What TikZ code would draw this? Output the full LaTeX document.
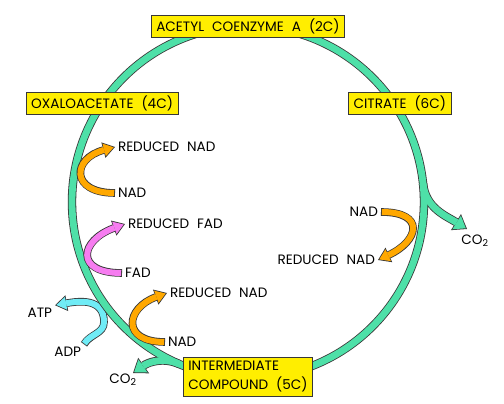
\documentclass[tikz,border=0pt]{standalone}
\usepackage{fontspec}
\setmainfont{Poppins}
\usetikzlibrary{arrows.meta}

\definecolor{cyclegreen}{RGB}{78,224,168}
\definecolor{boxyellow}{RGB}{255,238,0}
\definecolor{nadorange}{RGB}{255,168,0}
\definecolor{fadpink}{RGB}{246,124,240}
\definecolor{atpcyan}{RGB}{112,236,246}
\definecolor{outline}{RGB}{55,55,55}

\newcommand\cyclefont{\fontsize{13.6}{19}\selectfont\spaceskip=8pt\relax}

\tikzset{
  stage/.style={draw=outline, line width=0.6pt, fill=boxyellow, inner xsep=5pt,
    inner ysep=0pt, minimum height=22pt, font=\cyclefont},
  molecule/.style={inner sep=0pt, outer sep=3pt, font=\cyclefont},
  edgetip/.style={-{Triangle[length=12pt,width=16pt,line width=0pt,color=outline,fill=outline]}, shorten >=0pt},
  filltip/.style={-{Triangle[length=9.8pt,width=13pt,line width=0pt,color=#1,fill=#1]}, shorten >=1.44pt},
  band/.style={draw=#1, line width=6pt, filltip=#1, shorten <=0.8pt,
    preaction={draw=outline, line width=7.6pt, edgetip, shorten <=0pt}},
  cycleedge/.style={draw=outline, line width=8.4pt,
    -{Triangle[length=13pt,width=19pt,line width=0pt,color=outline,fill=outline]}},
  cyclefill/.style={draw=cyclegreen, line width=6.8pt, shorten >=1.35pt,
    -{Triangle[length=10.85pt,width=15.9pt,line width=0pt,color=cyclegreen,fill=cyclegreen]}},
}

\begin{document}
\begin{tikzpicture}[x=1pt,y=1pt]
    \fill[white] (0,0) rectangle (504,404);
    \useasboundingbox (0,0) rectangle (504,404);

    % molecules going in and out
    \node[molecule, anchor=west] (rnad1) at (115,257) {REDUCED NAD};
    \node[molecule, anchor=west] (nad1) at (115,211) {NAD};
    \node[molecule, anchor=west] (rfad) at (125,180) {REDUCED FAD};
    \node[molecule, anchor=west] (fad) at (122,131) {FAD};
    \node[molecule, anchor=west] (rnad3) at (167,111) {REDUCED NAD};
    \node[molecule, anchor=west] (nad3) at (165,62) {NAD};
    \node[molecule, anchor=east] (atp) at (55,91) {ATP};
    \node[molecule, anchor=east] (adp) at (84,52) {ADP};
    \node[molecule, anchor=east] (nad2) at (381,192) {NAD};
    \node[molecule, anchor=east] (rnad2) at (378,144) {REDUCED NAD};
    \node[molecule] (co2r) at (475,163) {CO\textsubscript{2}};
    \node[molecule] (co2l) at (123,24) {CO\textsubscript{2}};

    \coordinate (atpbend) at (104,82);
    \draw[band=atpcyan] (adp.north east) to[out=60,in=-90] (atpbend) to[out=90,in=10,looseness=1.2] (atp.north east);

    % the cycle and the two CO2 branches
    \coordinate (hub) at (248,202);
    \path (hub) ++(6:176) coordinate (splitR);
    \path (hub) ++(247:176) coordinate (splitL);
    \coordinate (tipR) at (467,175);
    \coordinate (tipL) at (133,31);
    \foreach \layer in {cycleedge,cyclefill}
        {
            \draw[\layer,-] (hub) circle[radius=176];
            \draw[\layer] (splitR) to[out=-84,in=148] (tipR);
            \draw[\layer] (splitL) to[out=157,in=35] (tipL);
        }

    \draw[band=nadorange] (nad1.west) to[out=180,in=195,looseness=2.5] (rnad1.west);
    \draw[band=fadpink] (fad.west) to[out=180,in=200,looseness=2.5] (rfad.west);
    \draw[band=nadorange] (nad3.west) to[out=180,in=200,looseness=2.3] (rnad3.west);
    \draw[band=nadorange] (nad2.east) to[out=0,in=25,looseness=2.4] (rnad2.east);

    % stages of the cycle
    \node[stage] (acetyl) at ([shift={(90:176)}]hub) {ACETYL COENZYME A (2C)};
    \node[stage] (oxalo) at ([shift={(146:176)}]hub) {OXALOACETATE (4C)};
    \node[stage] (citrate) at ([shift={(33:181)}]hub) {CITRATE (6C)};
    \node[stage, align=left, minimum height=39pt] (inter) at ([shift={(270:175)}]hub) {INTERMEDIATE\\COMPOUND (5C)};
\end{tikzpicture}
\end{document}
